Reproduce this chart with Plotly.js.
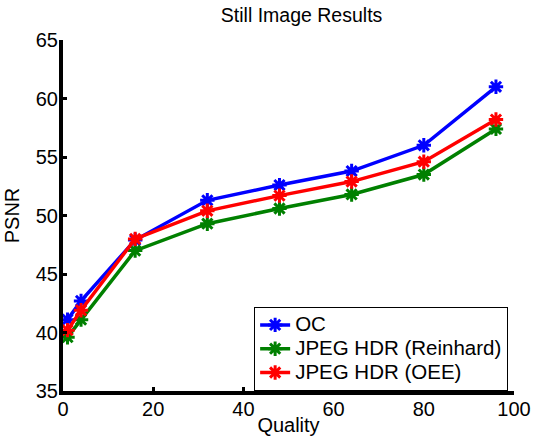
<!DOCTYPE html>
<html>
<head>
<meta charset="utf-8">
<script src="https://cdn.plot.ly/plotly-3.0.1.min.js"></script>
<style>html,body{margin:0;padding:0;background:#fff;}#chart{width:535px;height:436px;}</style>
</head>
<body>
<div id="chart"></div>
<script>
const quality = [1, 4, 16, 32, 48, 64, 80, 96];
const psnrOC = [41.1, 42.7, 47.9, 51.3, 52.6, 53.8, 56.0, 61.0];
const psnrReinhard = [39.6, 41.1, 47.0, 49.3, 50.6, 51.8, 53.5, 57.4];
const psnrOEE = [40.2, 41.9, 48.0, 50.4, 51.7, 52.9, 54.6, 58.2];
const seriesNames = ["OC", "JPEG HDR (Reinhard)", "JPEG HDR (OEE)"];
const xTicks = [0, 20, 40, 60, 80, 100];
const yTicks = [35, 40, 45, 50, 55, 60, 65];

const colors = ["#0000ff", "#008000", "#ff0000"];
const ys = [psnrOC, psnrReinhard, psnrOEE];
const font = "Liberation Sans, Arial, sans-serif";

const traces = ys.map((y, i) => ({
  x: quality, y: y,
  name: '<span style="font-size:20.5px">' + seriesNames[i] + '</span>',
  type: "scatter", mode: "lines+markers",
  line: {color: colors[i], width: 3.5},
  marker: {symbol: "asterisk-open", size: 12, color: colors[i], line: {color: colors[i], width: 3}}
}));

const layout = {
  width: 535, height: 436,
  margin: {l: 63, r: 21, t: 40, b: 45, pad: 0},
  paper_bgcolor: "#fff", plot_bgcolor: "#fff",
  font: {family: font, size: 20, color: "#000"},
  title: {text: "Still Image Results", font: {family: font, size: 19.5, color: "#000"}, xref: "paper", x: 0.529, xanchor: "center", y: 0.965, yanchor: "middle"},
  xaxis: {
    range: [0, 100], tickvals: xTicks, ticktext: xTicks.map(String),
    showgrid: false, zeroline: false, showline: true, linecolor: "#000", linewidth: 4,
    ticks: "inside", ticklen: 4, tickwidth: 3, tickcolor: "#000",
    tickfont: {family: font, size: 20}, ticklabelstandoff: -3,
    title: {text: "Quality", font: {family: font, size: 20}, standoff: 5}
  },
  yaxis: {
    range: [35, 65], tickvals: yTicks, ticktext: yTicks.map(String),
    showgrid: false, zeroline: false, showline: true, linecolor: "#000", linewidth: 4,
    ticks: "inside", ticklen: 4, tickwidth: 3, tickcolor: "#000",
    tickfont: {family: font, size: 20}, ticklabelstandoff: -3,
    title: {text: "PSNR", font: {family: font, size: 20}, standoff: 12}
  },
  legend: {
    x: 0.987, xanchor: "right", y: 0.0, yanchor: "bottom",
    bgcolor: "#fff", bordercolor: "#000", borderwidth: 1,
    font: {family: font, size: 16}, itemwidth: 30, tracegroupgap: 0
  },
  showlegend: true
};

Plotly.newPlot("chart", traces, layout, {displayModeBar: false, staticPlot: true});
</script>
</body>
</html>
